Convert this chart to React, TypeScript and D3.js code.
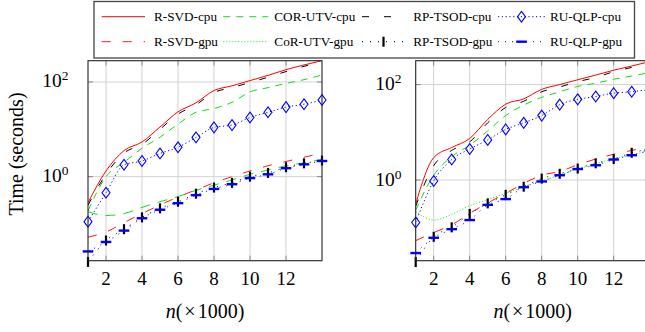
import React from "react";
import * as d3 from "d3";

// n (x1000)
const nValues = [1, 2, 3, 4, 5, 6, 7, 8, 9, 10, 11, 12, 13, 14];

// left panel, time in seconds
const leftRsvdCpu = [0.28, 1.32, 3.55, 5.4, 11.2, 23.4, 36.3, 66, 83, 107, 138, 182, 229, 282];
const leftCorCpu = [0.19, 1.0, 2.0, 3.98, 6.8, 12.9, 22.9, 27.5, 37.2, 61.7, 75.9, 93.3, 112, 141];
const leftRpCpu = [0.25, 1.12, 3.16, 4.8, 10, 20.9, 33.1, 60.3, 75.9, 97.7, 126, 166, 214, 269];
const leftRuCpu = [0.112, 0.457, 1.78, 2.14, 3.09, 4.17, 6.76, 11.0, 12.3, 17.8, 22.9, 29.5, 33.9, 41.7];
const leftRsvdGpu = [0.0525, 0.0676, 0.107, 0.166, 0.251, 0.372, 0.525, 0.741, 1.0, 1.32, 1.7, 2.09, 2.57, 3.16];
const leftCorGpu = [0.182, 0.151, 0.166, 0.224, 0.295, 0.38, 0.513, 0.661, 0.851, 1.12, 1.38, 1.7, 1.95, 2.34];
const leftRpGpu = [0.0158, 0.0447, 0.0776, 0.138, 0.214, 0.295, 0.437, 0.589, 0.741, 1.0, 1.2, 1.58, 1.91, 2.19];
const leftRuGpu = [0.0263, 0.0417, 0.0724, 0.132, 0.2, 0.275, 0.407, 0.55, 0.692, 0.933, 1.12, 1.51, 1.82, 2.14];

// right panel, time in seconds
const rightRsvdCpu = [0.316, 2.95, 4.79, 7.41, 18.6, 38.9, 50.1, 79.4, 100, 126, 158, 200, 245, 302];
const rightCorCpu = [0.234, 1.26, 3.09, 5.37, 10.7, 22.4, 37.2, 53.7, 70.8, 91.2, 107, 129, 151, 178];
const rightRpCpu = [0.282, 2.0, 4.17, 6.31, 15.8, 33.1, 44.7, 70.8, 89.1, 115, 141, 186, 229, 282];
const rightRuCpu = [0.129, 0.955, 2.69, 4.47, 6.92, 11.5, 15.8, 22.4, 38.0, 49.0, 56.2, 66.1, 70.8, 79.4];
const rightRsvdGpu = [0.0537, 0.0794, 0.115, 0.2, 0.331, 0.525, 0.851, 1.26, 1.51, 2.09, 2.75, 3.47, 4.17, 5.01];
const rightCorGpu = [0.219, 0.145, 0.191, 0.288, 0.389, 0.525, 0.724, 0.955, 1.26, 1.7, 2.19, 2.82, 3.31, 4.27];
const rightRpGpu = [0.0191, 0.0646, 0.102, 0.195, 0.324, 0.49, 0.724, 1.07, 1.35, 1.74, 2.24, 2.75, 3.72, 4.47];
const rightRuGpu = [0.0295, 0.0617, 0.0933, 0.145, 0.302, 0.398, 0.708, 0.933, 1.26, 1.7, 2.04, 2.69, 3.31, 4.17];

const xTicks = [2, 4, 6, 8, 10, 12];
const yTicks = [1, 100];
const yTickExp = ["0", "2"];

const seriesNames = [
  "R-SVD-cpu", "COR-UTV-cpu", "RP-TSOD-cpu", "RU-QLP-cpu",
  "R-SVD-gpu", "CoR-UTV-gpu", "RP-TSOD-gpu", "RU-QLP-gpu",
];
// legend text widths as measured on the reference
const legendWidths = [63, 81, 78, 71, 64, 79, 79, 72];

const RED = "#ff0000", GREEN = "#11e011", BLUE = "#0000ff";

// style per series (same order as names)
const styles = [
  { color: RED, dash: null, width: 1, mark: null },
  { color: GREEN, dash: "7 6", width: 1, mark: null },
  { color: "#000", dash: "7 15", width: 1, mark: null },
  { color: BLUE, dash: "1.2 2.6", width: 1, mark: "diamond" },
  { color: RED, dash: "9 12", width: 0.9, mark: null },
  { color: GREEN, dash: "1 2", width: 1, mark: null },
  { color: "#000", dash: "1 7", width: 1, mark: "vbar" },
  { color: BLUE, dash: "1 6", width: 1, mark: "hbar" },
];

const FONT = "'Liberation Serif', 'Times New Roman', serif";
const TOP = 60.7, BOTTOM = 260.7;

function Marker({ type, x, y, color }) {
  if (type === "diamond")
    return <path d={`M${x},${y - 5.4}L${x + 4},${y}L${x},${y + 5.4}L${x - 4},${y}Z`} fill="none" stroke={color} strokeWidth={1.1} />;
  if (type === "vbar")
    return <line x1={x} x2={x} y1={y - 5} y2={y + 5} stroke={color} strokeWidth={2.2} />;
  if (type === "hbar")
    return <line x1={x - 5.3} x2={x + 5.3} y1={y} y2={y} stroke={color} strokeWidth={2.4} />;
  return null;
}

function Panel({ id, xRange, yDomain, series, corGpuDash, yLabelEnd, xLabelCenter }) {
  const x = d3.scaleLinear().domain([1, 14]).range(xRange);
  const y = d3.scaleLog().domain(yDomain).range([BOTTOM, TOP]);
  const line = d3.line<number>()
    .x((d, i) => x(nValues[i]))
    .y((d) => y(d))
    .curve(d3.curveMonotoneX);
  const [x0, x1] = xRange;
  return (
    <g>
      <defs>
        <clipPath id={id}>
          <rect x={x0} y={TOP} width={x1 - x0} height={BOTTOM - TOP} />
        </clipPath>
      </defs>
      <rect x={x0} y={TOP} width={x1 - x0} height={BOTTOM - TOP} fill="#fff" />
      {xTicks.map((t) => (
        <g key={t}>
          <line x1={x(t)} x2={x(t)} y1={TOP} y2={BOTTOM} stroke="#d2d2d2" strokeWidth={1} />
          <line x1={x(t)} x2={x(t)} y1={BOTTOM} y2={BOTTOM - 5} stroke="#888" strokeWidth={1} />
          <line x1={x(t)} x2={x(t)} y1={TOP} y2={TOP + 5} stroke="#888" strokeWidth={1} />
          <text x={x(t)} y={285} textAnchor="middle" fontSize={19} fontFamily={FONT}>{t}</text>
        </g>
      ))}
      {yTicks.map((t, i) => (
        <g key={t}>
          <line x1={x0} x2={x1} y1={y(t)} y2={y(t)} stroke="#d2d2d2" strokeWidth={1} />
          <line x1={x0} x2={x0 + 5} y1={y(t)} y2={y(t)} stroke="#888" strokeWidth={1} />
          <line x1={x1} x2={x1 - 5} y1={y(t)} y2={y(t)} stroke="#888" strokeWidth={1} />
          <text x={yLabelEnd} y={y(t) + 5.5} textAnchor="end" fontSize={19.5} fontFamily={FONT}>
            10<tspan fontSize={13.5} dy={-7}>{yTickExp[i]}</tspan>
          </text>
        </g>
      ))}
      <g clipPath={`url(#${id})`}>
        {series.map((vals, k) => (
          <path key={k} d={line(vals)} fill="none" stroke={styles[k].color}
            strokeWidth={styles[k].width}
            strokeDasharray={k === 5 ? corGpuDash : styles[k].dash || undefined} />
        ))}
      </g>
      {series.map((vals, k) =>
        styles[k].mark ? (
          <g key={"m" + k}>
            {vals.map((v, i) => (
              <Marker key={i} type={styles[k].mark} x={x(nValues[i])} y={y(v)} color={styles[k].color} />
            ))}
          </g>
        ) : null
      )}
      <rect x={x0} y={TOP} width={x1 - x0} height={BOTTOM - TOP} fill="none" stroke="#222" strokeWidth={1.1} />
      <text x={xLabelCenter} y={318} textAnchor="middle" fontSize={20} fontFamily={FONT}>
        <tspan fontStyle="italic">n</tspan>(<tspan dx={2}>×</tspan><tspan dx={2}>1000</tspan>)
      </text>
    </g>
  );
}

function Legend() {
  const cols = [
    { s: 101.7, e: 145, t: 154 },
    { s: 223.3, e: 268.3, t: 274.3 },
    { s: 362, e: 405, t: 413.3 },
    { s: 498, e: 545, t: 550 },
  ];
  const rows = [16.7, 41.7];
  return (
    <g>
      <rect x={94} y={1.5} width={540.5} height={56.5} fill="#fff" stroke="#444" strokeWidth={1.3} />
      {seriesNames.map((name, k) => {
        const c = cols[k % 4];
        const ry = rows[Math.floor(k / 4)];
        const st = styles[k];
        return (
          <g key={name}>
            <line x1={c.s} x2={c.e} y1={ry} y2={ry} stroke={st.color} strokeWidth={st.width}
              strokeDasharray={st.dash || undefined} />
            {st.mark && <Marker type={st.mark} x={(c.s + c.e) / 2} y={ry} color={st.color} />}
            <text x={c.t} y={ry + 4.5} fontSize={13} fontFamily={FONT}
              textLength={legendWidths[k]} lengthAdjust="spacingAndGlyphs">{name}</text>
          </g>
        );
      })}
    </g>
  );
}

export default function App() {
  const left = [leftRsvdCpu, leftCorCpu, leftRpCpu, leftRuCpu, leftRsvdGpu, leftCorGpu, leftRpGpu, leftRuGpu];
  const right = [rightRsvdCpu, rightCorCpu, rightRpCpu, rightRuCpu, rightRsvdGpu, rightCorGpu, rightRpGpu, rightRuGpu];
  return (
    <svg width={645} height={332} style={{ position: "absolute", left: 0, top: 0, background: "#fff" }}>
      <Panel id="clipL" xRange={[88, 322]} yDomain={[0.01675, 281.8]} series={left}
        corGpuDash="10 8" yLabelEnd={68.5} xLabelCenter={205} />
      <Panel id="clipR" xRange={[415.7, 649.7]} yDomain={[0.0204, 316.2]} series={right}
        corGpuDash="1 2" yLabelEnd={401.5} xLabelCenter={532.7} />
      <text transform="translate(23,154) rotate(-90)" textAnchor="middle" fontSize={20} fontFamily={FONT}>
        Time (seconds)
      </text>
      <Legend />
    </svg>
  );
}
